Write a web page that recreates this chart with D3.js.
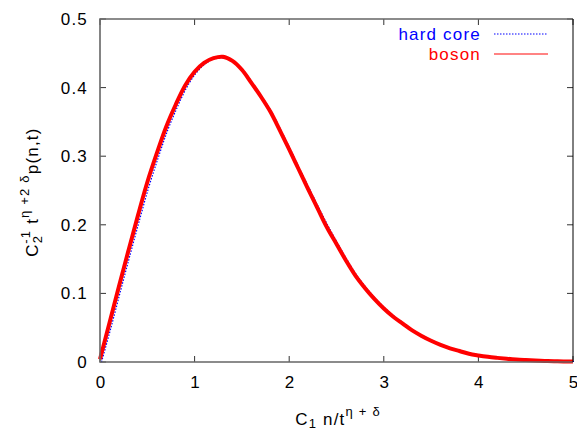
<!DOCTYPE html>
<html>
<head>
<meta charset="utf-8">
<script src="https://cdn.jsdelivr.net/npm/d3@7"></script>
<style>
  body { margin: 0; background: #fff; }
  text { font-family: "Liberation Sans", Arial, Helvetica, sans-serif; letter-spacing: 1.2px; }
</style>
</head>
<body>
<div id="graph"></div>
<script>
// x values, step 0.1
const xs = [0,0.1,0.2,0.3,0.4,0.5,0.6,0.7,0.8,0.9,1.0,1.1,1.2,1.3,1.4,1.5,1.6,1.7,1.8,1.9,
            2.0,2.1,2.2,2.3,2.4,2.5,2.6,2.7,2.8,2.9,3.0,3.1,3.2,3.3,3.4,3.5,3.6,3.7,3.8,3.9,
            4.0,4.1,4.2,4.3,4.4,4.5,4.6,4.7,4.8,4.9,5.0];

const hardCore = [0.0,0.050,0.103,0.155,0.206,0.255,0.298,0.338,0.371,0.400,0.421,0.435,0.442,0.443,0.438,0.425,0.406,0.386,0.364,0.337,
                  0.309,0.280,0.252,0.224,0.197,0.172,0.148,0.126,0.108,0.092,0.078,0.066,0.056,0.046,0.038,0.031,0.025,0.020,0.016,0.012,
                  0.0095,0.0075,0.006,0.0047,0.0036,0.0028,0.0021,0.0016,0.0012,0.0009,0.0007];

const boson = [0.004,0.057,0.110,0.162,0.213,0.262,0.304,0.343,0.375,0.403,0.423,0.436,0.443,0.445,0.439,0.426,0.407,0.387,0.365,0.338,
               0.310,0.281,0.252,0.224,0.196,0.172,0.148,0.126,0.108,0.092,0.078,0.066,0.056,0.046,0.038,0.031,0.025,0.020,0.016,0.012,
               0.0095,0.0075,0.006,0.0047,0.0036,0.0028,0.0021,0.0016,0.0012,0.0009,0.0007];

const xTicks = [0,1,2,3,4,5];
const yTicks = [0,0.1,0.2,0.3,0.4,0.5];

let margin = {top: 19, right: 4, bottom: 68, left: 100},
    width = 577 - margin.left - margin.right,
    height = 430 - margin.top - margin.bottom;

let svg = d3.select("#graph")
      .append("svg")
      .attr("width", 577)
      .attr("height", 430);

let x = d3.scaleLinear().domain([0, 5]).range([0, width]),
    y = d3.scaleLinear().domain([0, 0.5]).range([height, 0]);

let plot = svg.append("g")
      .attr("transform", "translate(" + margin.left + "," + margin.top + ")");

// ticks, inward on all four sides
let tickLen = 6;
plot.selectAll(".xt").data(xTicks).enter().append("path")
      .attr("d", d => "M" + x(d) + "," + height + "v" + (-tickLen) + "M" + x(d) + ",0v" + tickLen)
      .attr("stroke", "#333").attr("stroke-width", 1);
plot.selectAll(".yt").data(yTicks).enter().append("path")
      .attr("d", d => "M0," + y(d) + "h" + tickLen + "M" + width + "," + y(d) + "h" + (-tickLen))
      .attr("stroke", "#333").attr("stroke-width", 1);

// tick labels
plot.selectAll(".xl").data(xTicks).enter().append("text")
      .attr("x", d => x(d) + 1)
      .attr("y", height + 26)
      .attr("text-anchor", "middle")
      .attr("font-size", 17)
      .text(d => d);
plot.selectAll(".yl").data(yTicks).enter().append("text")
      .attr("x", -12)
      .attr("y", d => y(d) + 6)
      .attr("text-anchor", "end")
      .attr("font-size", 17)
      .text(d => d);

// curves
let line = d3.line()
      .x((d, i) => x(xs[i]))
      .y(d => y(d))
      .curve(d3.curveCatmullRom);

plot.append("path")
      .datum(hardCore)
      .attr("d", line)
      .attr("fill", "none")
      .attr("stroke", "#0000ff")
      .attr("stroke-width", 1.2)
      .attr("stroke-dasharray", "1.5,1.5")
      .attr("transform", "translate(1.5,0)");

plot.append("path")
      .datum(boson)
      .attr("d", line)
      .attr("fill", "none")
      .attr("stroke", "#ff0000")
      .attr("stroke-width", 4)
      .attr("stroke-linejoin", "round");

// border
plot.append("path")
      .attr("d", "M" + width + ",0H0V" + height + "H" + width)
      .attr("fill", "none")
      .attr("stroke", "#666")
      .attr("stroke-width", 1.6);
plot.append("line")
      .attr("x1", width).attr("x2", width)
      .attr("y1", 0).attr("y2", height)
      .attr("stroke", "#000").attr("stroke-width", 1);

// legend
let legend = [
  {name: "hard core", color: "#0000ff", dash: "1.5,1.5", w: 1.2, y: 34},
  {name: "boson", color: "#ff0000", dash: null, w: 1.5, y: 54}
];
legend.forEach(function(l) {
  svg.append("text")
      .attr("x", 481).attr("y", l.y + 6)
      .attr("text-anchor", "end")
      .attr("font-size", 17)
      .attr("fill", l.color)
      .text(l.name);
  svg.append("line")
      .attr("x1", 494).attr("x2", 548)
      .attr("y1", l.y).attr("y2", l.y)
      .attr("stroke", l.color)
      .attr("stroke-opacity", l.dash ? 1 : 0.65)
      .attr("stroke-width", l.w)
      .attr("stroke-dasharray", l.dash);
});

// x axis title
let xt = svg.append("text")
      .attr("x", 338).attr("y", 425)
      .attr("text-anchor", "middle")
      .attr("font-size", 17);
xt.append("tspan").text("C");
xt.append("tspan").attr("font-size", 13).attr("dy", 3).text("1");
xt.append("tspan").attr("dy", -3).text(" n/t");
xt.append("tspan").attr("font-size", 13).attr("dy", -9).text("η + δ");

// y axis title
let yt = svg.append("text")
      .attr("transform", "translate(38,192) rotate(-90)")
      .attr("text-anchor", "middle")
      .attr("font-size", 17);
yt.append("tspan").text("C");
yt.append("tspan").attr("font-size", 13).attr("dy", 4).text("2");
yt.append("tspan").attr("font-size", 13).attr("dy", -12).attr("dx", -9).text("-1");
yt.append("tspan").attr("dy", 8).text(" t");
yt.append("tspan").attr("font-size", 13).attr("dy", -9).text("η +2 δ");
yt.append("tspan").attr("dy", 9).text("p(n,t)");
</script>
</body>
</html>
